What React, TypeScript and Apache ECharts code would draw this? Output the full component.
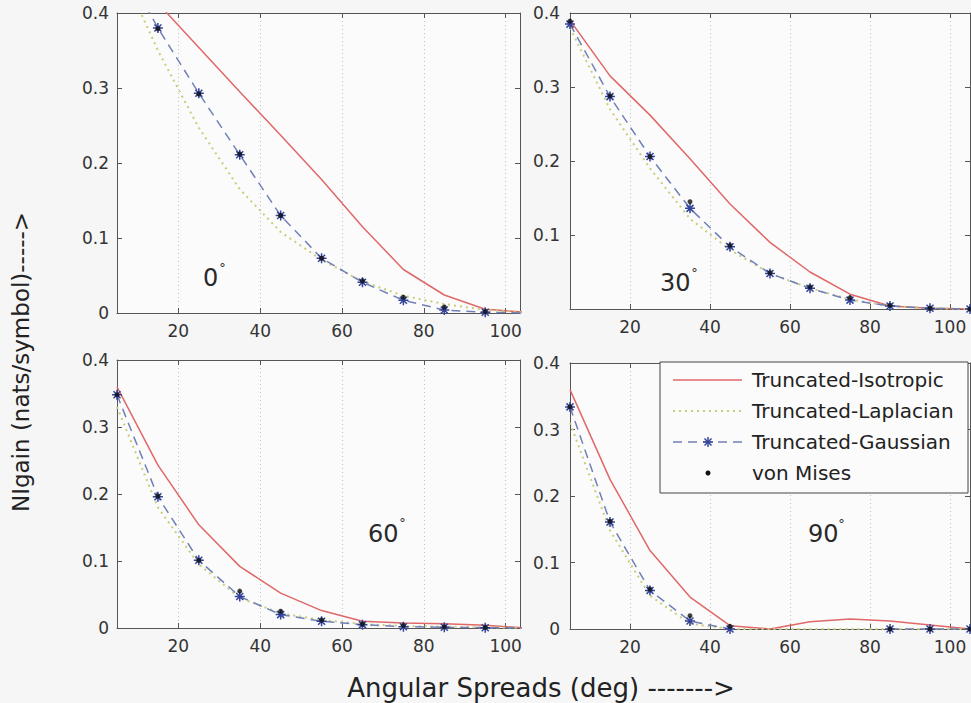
import React, { useEffect, useRef } from "react";
import * as echarts from "echarts";

// Angular spreads (deg)
const spreads = [5, 15, 25, 35, 45, 55, 65, 75, 85, 95, 105];

// Panel 0°
const iso0 = [0.47, 0.413, 0.354, 0.295, 0.237, 0.178, 0.115, 0.058, 0.024, 0.005, 0.001];
const lap0 = [0.47, 0.35, 0.247, 0.165, 0.108, 0.071, 0.042, 0.023, 0.012, 0.004, 0.001];
const gau0 = [0.48, 0.38, 0.293, 0.211, 0.13, 0.073, 0.041, 0.017, 0.004, 0.001, 0];
const vm0 = [0.48, 0.379, 0.292, 0.212, 0.13, 0.073, 0.043, 0.021, 0.008, 0.002, 0];
// Panel 30°
const iso30 = [0.39, 0.315, 0.262, 0.203, 0.142, 0.09, 0.05, 0.02, 0.004, 0.001, 0];
const lap30 = [0.38, 0.27, 0.19, 0.122, 0.08, 0.048, 0.028, 0.013, 0.004, 0.001, 0];
const gau30 = [0.385, 0.287, 0.206, 0.136, 0.084, 0.048, 0.028, 0.012, 0.004, 0.001, 0];
const vm30 = [0.389, 0.288, 0.206, 0.145, 0.086, 0.049, 0.03, 0.015, 0.005, 0.001, 0];
// Panel 60°
const iso60 = [0.36, 0.243, 0.154, 0.092, 0.052, 0.026, 0.01, 0.0075, 0.0065, 0.004, 0];
const lap60 = [0.33, 0.18, 0.095, 0.045, 0.022, 0.012, 0.006, 0.003, 0.002, 0.001, 0];
const gau60 = [0.348, 0.196, 0.101, 0.047, 0.02, 0.01, 0.005, 0.002, 0.001, 0.0005, 0];
const vm60 = [0.348, 0.197, 0.101, 0.055, 0.025, 0.012, 0.006, 0.004, 0.002, 0.001, 0];
// Panel 90°
const iso90 = [0.36, 0.225, 0.118, 0.048, 0.005, 0, 0.011, 0.015, 0.012, 0.006, 0];
const lap90 = [0.31, 0.148, 0.05, 0.008, 0, 0, 0, 0, 0, 0, 0];
const gau90 = [0.334, 0.161, 0.058, 0.012, 0, null, null, null, 0, 0, 0];
const vm90 = [0.334, 0.162, 0.06, 0.02, 0.004, null, null, null, 0, 0, 0];

const panelLabels = ["0", "30", "60", "90"];
const seriesNames = ["Truncated-Isotropic", "Truncated-Laplacian", "Truncated-Gaussian", "von Mises"];
const yTicks = [0, 0.1, 0.2, 0.3, 0.4];
const xTitle = "Angular Spreads (deg) ------->";
const yTitle = "NIgain (nats/symbol)----->";

const panelData = [
  [iso0, lap0, gau0, vm0],
  [iso30, lap30, gau30, vm30],
  [iso60, lap60, gau60, vm60],
  [iso90, lap90, gau90, vm90],
];

const FONT = "DejaVu Sans";
const AX = "#555";
const RED = "#e06868";
const YEL = "#c9cd78";
const BLUE = "#7080b8";
const STAR = "#34449a";
const STAR_PATH = "path://M5 0 L5 10 M0 5 L10 5 M1.5 1.5 L8.5 8.5 M1.5 8.5 L8.5 1.5";

const layouts = [
  { left: 117, top: 13, width: 403, height: 300, xMax: 103.5, hideZero: false, yMargin: 8 },
  { left: 570, top: 13, width: 400, height: 296, xMax: 105, hideZero: true, yMargin: 10 },
  { left: 117, top: 360, width: 403, height: 268, xMax: 103.5, hideZero: false, yMargin: 8 },
  { left: 570, top: 363, width: 400, height: 266, xMax: 105, hideZero: false, yMargin: 10 },
];
const annot = [
  { x: 203, y: 277.5, dx: 222.5, dy: 264.5 },
  { x: 660, y: 282.5, dx: 694.5, dy: 269.5 },
  { x: 368, y: 533.5, dx: 402.5, dy: 519.5 },
  { x: 808, y: 533.5, dx: 841.5, dy: 520.5 },
];

function pairs(arr: (number | null)[]) {
  return spreads.map((x, k) => [x, arr[k] === null ? "-" : arr[k]]);
}

export default function App() {
  const ref = useRef<HTMLDivElement>(null);
  useEffect(() => {
    if (!ref.current) return;
    const chart = echarts.init(ref.current, undefined, { renderer: "svg" });
    const grid: any[] = [];
    const xAxis: any[] = [];
    const yAxis: any[] = [];
    const series: any[] = [];
    const graphic: any[] = [];
    layouts.forEach((L, i) => {
      grid.push({
        left: L.left, top: L.top, width: L.width, height: L.height,
        show: true, backgroundColor: "#fbfbfb", borderWidth: 0,
      });
      ["bottom", "top"].forEach((pos) => {
        xAxis.push({
          type: "value", gridIndex: i, min: 5, max: L.xMax, position: pos,
          axisLine: { show: true, onZero: false, lineStyle: { color: AX, width: 1 } },
          axisTick: { show: true, inside: true, length: 5, lineStyle: { color: AX } },
          axisLabel: pos === "bottom"
            ? { show: true, margin: 9, color: "#333", fontSize: 17, fontFamily: FONT, showMinLabel: false, showMaxLabel: false }
            : { show: false },
          splitLine: pos === "bottom"
            ? { show: true, lineStyle: { color: "#c2c2c2", type: [1, 3], width: 1 } }
            : { show: false },
        });
      });
      ["left", "right"].forEach((pos) => {
        yAxis.push({
          type: "value", gridIndex: i, min: yTicks[0], max: yTicks[yTicks.length - 1], splitNumber: yTicks.length - 1,
          position: pos,
          axisLine: { show: true, onZero: false, lineStyle: { color: AX, width: 1 } },
          axisTick: { show: true, inside: true, length: 5, lineStyle: { color: AX } },
          axisLabel: pos === "left"
            ? {
                show: true, margin: L.yMargin, color: "#333", fontSize: 17, fontFamily: FONT,
                showMinLabel: !L.hideZero,
                formatter: (v: number) => (v === 0 ? "0" : v.toFixed(1)),
              }
            : { show: false },
          splitLine: { show: false },
        });
      });
      const [iso, lap, gau, vm] = panelData[i];
      series.push({
        type: "line", name: seriesNames[0], xAxisIndex: 2 * i, yAxisIndex: 2 * i,
        data: pairs(iso), showSymbol: false, lineStyle: { color: RED, width: 1.5 }, itemStyle: { color: RED }, z: 2,
      });
      series.push({
        type: "line", name: seriesNames[1], xAxisIndex: 2 * i, yAxisIndex: 2 * i,
        data: pairs(lap), showSymbol: false, lineStyle: { color: YEL, width: 2, type: [2, 4] }, itemStyle: { color: YEL }, z: 3,
      });
      series.push({
        type: "line", name: seriesNames[2], xAxisIndex: 2 * i, yAxisIndex: 2 * i,
        data: pairs(gau), showSymbol: true, symbol: STAR_PATH, symbolSize: 10, connectNulls: false,
        lineStyle: { color: BLUE, width: 1.5, type: [9, 6] },
        itemStyle: { color: "rgba(0,0,0,0)", borderColor: STAR, borderWidth: 1.5 }, z: 4,
      });
      series.push({
        type: "scatter", name: seriesNames[3], xAxisIndex: 2 * i, yAxisIndex: 2 * i,
        data: spreads.map((x, k) => [x, vm[k]]).filter((p) => p[1] !== null),
        symbol: "circle", symbolSize: 5, itemStyle: { color: "#111" }, z: 5,
      });
      const A = annot[i];
      graphic.push({
        type: "text", x: A.x, y: A.y, z: 50,
        style: { text: panelLabels[i], font: `24px "${FONT}"`, fill: "#2a2a2a", align: "left", verticalAlign: "middle" },
      });
      graphic.push({
        type: "text", x: A.dx, y: A.dy + 3, z: 50,
        style: { text: "°", font: `13px "${FONT}"`, fill: "#2a2a2a", align: "center", verticalAlign: "middle" },
      });
    });

    // axis titles
    graphic.push({
      type: "text", x: 541, y: 688, z: 50,
      style: { text: xTitle, font: `26px "${FONT}"`, fill: "#222", align: "center", verticalAlign: "middle" },
    });
    graphic.push({
      type: "text", x: 21, y: 362, rotation: Math.PI / 2, z: 50,
      style: { text: yTitle, font: `23px "${FONT}"`, fill: "#222", align: "center", verticalAlign: "middle" },
    });

    // legend
    const lx1 = 673, lx2 = 742, lcx = 708, tx = 752;
    const rows = [380, 411, 442, 473];
    graphic.push({
      type: "rect", z: 100, shape: { x: 660, y: 362, width: 308, height: 131 },
      style: { fill: "#fbfbfb", stroke: "#444", lineWidth: 1 },
    });
    graphic.push({ type: "line", z: 101, shape: { x1: lx1, y1: rows[0], x2: lx2, y2: rows[0] }, style: { stroke: RED, lineWidth: 1.5 } });
    graphic.push({ type: "line", z: 101, shape: { x1: lx1, y1: rows[1], x2: lx2, y2: rows[1] }, style: { stroke: YEL, lineWidth: 2, lineDash: [2, 4] } });
    graphic.push({ type: "line", z: 101, shape: { x1: lx1, y1: rows[2], x2: lx2, y2: rows[2] }, style: { stroke: BLUE, lineWidth: 1.5, lineDash: [9, 6] } });
    const s = 5, d = 3.5;
    [[0, -s, 0, s], [-s, 0, s, 0], [-d, -d, d, d], [-d, d, d, -d]].forEach((q) => {
      graphic.push({
        type: "line", z: 102,
        shape: { x1: lcx + q[0], y1: rows[2] + q[1], x2: lcx + q[2], y2: rows[2] + q[3] },
        style: { stroke: STAR, lineWidth: 1.5 },
      });
    });
    graphic.push({ type: "circle", z: 102, shape: { cx: lcx, cy: rows[3], r: 2.5 }, style: { fill: "#111" } });
    seriesNames.forEach((nm, k) => {
      graphic.push({
        type: "text", x: tx, y: rows[k], z: 102,
        style: { text: nm, font: `20px "${FONT}"`, fill: "#222", align: "left", verticalAlign: "middle" },
      });
    });

    chart.setOption({
      animation: false,
      backgroundColor: "#f6f6f6",
      grid, xAxis, yAxis, series, graphic,
    });
    return () => chart.dispose();
  }, []);
  return <div ref={ref} style={{ position: "absolute", left: 0, top: 0, width: 971, height: 703 }} />;
}
